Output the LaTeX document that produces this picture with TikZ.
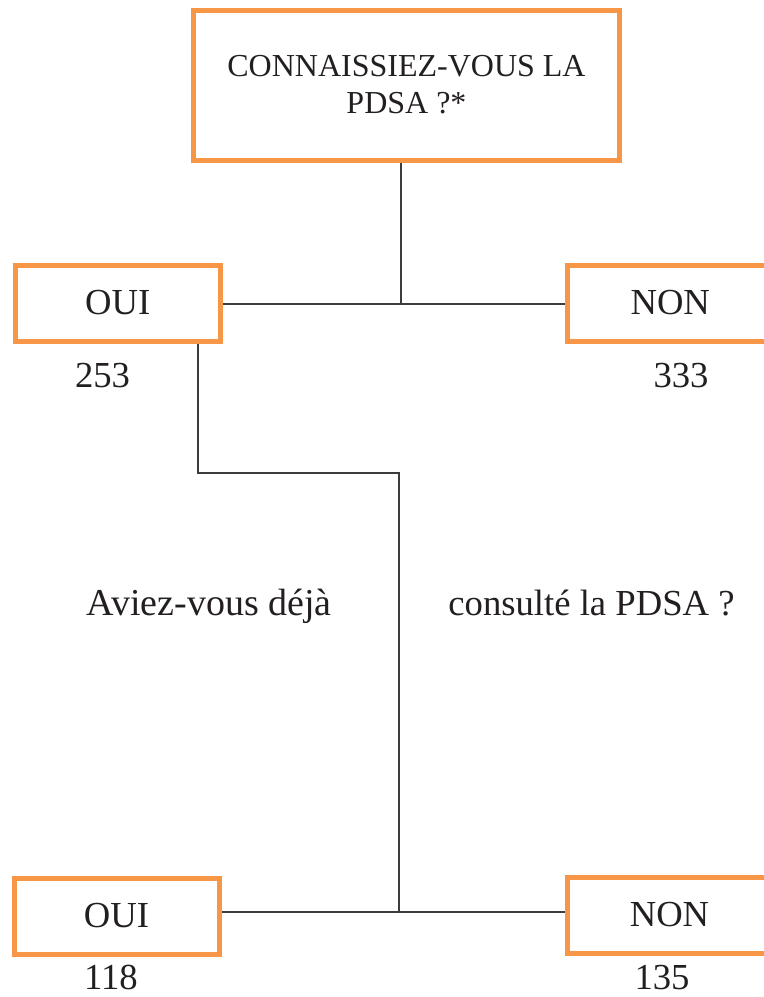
\documentclass[tikz,border=0pt]{standalone}
\usepackage{fontspec}
\setmainfont{Liberation Serif}
\usepackage{xcolor}
\definecolor{boxorange}{RGB}{247,150,70}
\definecolor{inkgray}{RGB}{35,31,32}
\definecolor{linegray}{RGB}{60,60,60}

\tikzset{
    answer/.style = {draw=boxorange, line width=3.75pt, rectangle,
        minimum width=153.75pt, minimum height=57pt, inner sep=0pt,
        text=inkgray, font=\fontsize{27.5}{33}\selectfont},
    question/.style = {draw=boxorange, line width=3.75pt, rectangle,
        minimum width=319.5pt, minimum height=112.5pt, inner sep=0pt,
        align=center, text=inkgray, font=\fontsize{24}{27.75}\selectfont},
    count/.style = {anchor=base, inner sep=0pt, text=inkgray,
        font=\fontsize{27.5}{33}\selectfont},
    link/.style = {draw=linegray, line width=0.9pt}
}

\begin{document}
\begin{tikzpicture}[x=0.75pt, y=-0.75pt]
    \useasboundingbox (0,0) rectangle (764,997);

    % Question box
    \node[question] (q1) at (406.5,85) {CONNAISSIEZ-VOUS LA\\PDSA ?*};

    % First answers
    \node[answer] (oui1) at (117.75,303) {OUI};
    \node[answer] (non1) at (670.25,303) {NON};
    \node[count] (n253) at (102.5,387) {253};
    \node[count] (n333) at (681,387) {333};

    % Second question, split around the line
    \node[count, font=\fontsize{28.5}{33}\selectfont] (ask1) at (209,615) {Aviez-vous déjà};
    \node[count] (ask2) at (591.5,615) {consulté la PDSA ?};

    % Second answers
    \node[answer] (oui2) at (116.5,916) {OUI};
    \node[answer] (non2) at (669.5,915) {NON};
    \node[count] (n118) at (111,989) {118};
    \node[count] (n135) at (662,989) {135};

    % Junctions
    \coordinate (j1) at (401,304);
    \coordinate (bend1) at (198,473);
    \coordinate (bend2) at (399,473);
    \coordinate (j2) at (399,912);

    % Draw lines
    \draw[link] (q1.south -| j1) -- (j1);
    \draw[link] (oui1.east |- j1) -- (non1.west |- j1);
    \draw[link] (oui1.south -| bend1) -- (bend1) -- (bend2) -- (j2);
    \draw[link] (oui2.east |- j2) -- (non2.west |- j2);
\end{tikzpicture}
\end{document}
